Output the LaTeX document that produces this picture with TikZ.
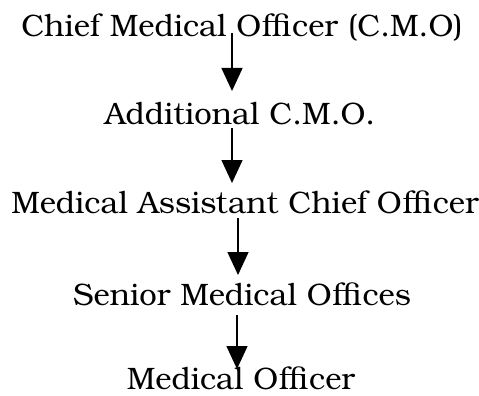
\documentclass[tikz,border=0pt]{standalone}
\usepackage{fontspec}
\setmainfont{TeX Gyre Bonum}
\usetikzlibrary{arrows.meta}
\tikzset{
  rank/.style={anchor=base, inner sep=0pt, font=\fontsize{31}{36}\selectfont},
  link/.style={line width=1.4pt, -{Triangle[width=21pt,length=23pt]}}
}
\begin{document}
\begin{tikzpicture}[x=1pt,y=-1pt]
  \useasboundingbox (0,0) rectangle (479,396);
  \node[rank] (cmo)  at (242,37)  {Chief Medical Officer (C.M.O)};
  \node[rank] (acmo) at (240,124) {Additional C.M.O.};
  \node[rank] (maco) at (245,213) {Medical Assistant Chief Officer};
  \node[rank] (smo)  at (242,305) {Senior Medical Offices};
  \node[rank] (mo)   at (241,389) {Medical Officer};
  % start and end points of the hierarchy links
  \coordinate (s1) at (232,33);  \coordinate (e1) at (232,91);
  \coordinate (s2) at (232,128); \coordinate (e2) at (232,183);
  \coordinate (s3) at (238,218); \coordinate (e3) at (238,275);
  \coordinate (s4) at (237,315); \coordinate (e4) at (237,369);
  \draw[link] (s1) -- (e1);
  \draw[link] (s2) -- (e2);
  \draw[link] (s3) -- (e3);
  \draw[link] (s4) -- (e4);
\end{tikzpicture}
\end{document}
